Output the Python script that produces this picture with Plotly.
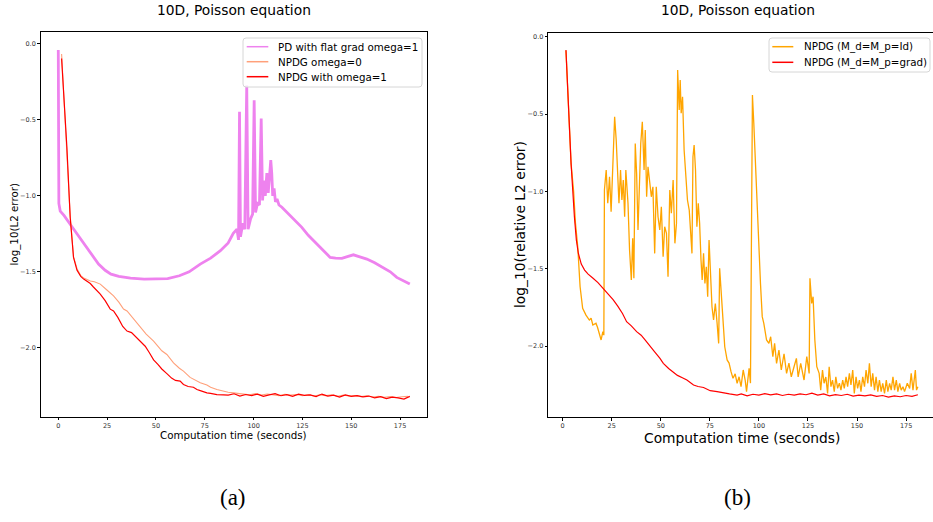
import plotly.graph_objects as go

# ---------------- Panel (a) data ----------------
pd_flat_t = [0, 0.3, 1, 3, 6, 9, 13, 17, 20.6, 24, 27, 31, 37, 44, 50, 56, 62, 67, 72.7, 78, 83, 87,
             89.6, 91.5, 92.3, 92.8, 93.3, 94.5, 95.5, 96.5, 97.2, 98.5, 99.5, 100.3, 101, 102, 103,
             103.9, 104.6, 105.3, 106, 106.8, 107.5, 108.3, 108.8, 109.3, 109.8, 110.5, 111.2, 112, 113,
             114.5, 118, 121, 124.7, 128, 132.4, 136, 139.2, 142, 145.2, 148, 151.1, 154, 158, 162,
             166.5, 170, 173.3, 177, 180]
pd_flat_v = [-0.04, -1.05, -1.10, -1.13, -1.185, -1.24, -1.317, -1.39, -1.449, -1.49, -1.515, -1.53,
             -1.542, -1.548, -1.548, -1.545, -1.526, -1.50, -1.449, -1.41, -1.361, -1.31,
             -1.246, -1.22, -1.29, -0.446, -1.27, -1.18, -1.22, -0.27, -1.22, -1.15, -1.12, -0.37,
             -1.11, -1.05, -1.06, -0.49, -1.03, -0.90, -1.00, -0.85, -0.98, -0.80, -0.764, -0.85, -1.00,
             -0.95, -1.04, -1.02, -1.06, -1.075, -1.12, -1.16, -1.207, -1.26, -1.317, -1.37, -1.405,
             -1.41, -1.412, -1.40, -1.388, -1.40, -1.416, -1.44, -1.471, -1.50, -1.537, -1.56, -1.581]

npdg0_t = [1.7, 3.0, 4.4, 6.1, 7.8, 9.6, 11.5, 13, 14.7, 16.4, 18.5, 21.5, 24.9, 28.3, 31, 33.4, 35.2,
           38.5, 42, 45, 48.8, 50.5, 53, 55.6, 59, 62, 64.1, 67.5, 70, 72.7, 76.1, 78, 81.2, 84.6, 87,
           89.7, 92, 95, 98, 101, 104, 107, 110, 113, 116, 119, 122, 125, 128, 131, 134, 137, 140,
           143, 146, 149, 152, 155, 158, 161, 164, 167, 170, 173, 176, 179]
npdg0_v = [-0.066, -0.36, -0.66, -1.13, -1.40, -1.48, -1.525, -1.54, -1.55, -1.56, -1.565, -1.581,
           -1.62, -1.658, -1.70, -1.745, -1.758, -1.81, -1.868, -1.91, -1.956, -1.985, -2.02, -2.044,
           -2.10, -2.135, -2.154, -2.195, -2.215, -2.231, -2.245, -2.26, -2.275, -2.286, -2.293,
           -2.297, -2.30, -2.305, -2.31, -2.302, -2.312, -2.305, -2.31, -2.315, -2.306, -2.312,
           -2.308, -2.316, -2.31, -2.318, -2.31, -2.315, -2.31, -2.32, -2.312, -2.318, -2.315,
           -2.322, -2.316, -2.324, -2.32, -2.326, -2.322, -2.328, -2.323, -2.32]

npdg1_t = [1.7, 3.0, 4.4, 6.1, 7.8, 9.6, 11.5, 13, 14.7, 16.4, 18, 19.8, 21.5, 24, 26.6, 28.3, 30.5,
           33, 35.2, 37.5, 40, 42, 44.5, 46.5, 48.8, 51, 53, 55.6, 58, 60, 62.4, 64.1, 66.5, 69.2,
           71, 72.7, 74.5, 76.1, 78, 80, 81.2, 84.6, 87, 90, 93, 96, 99, 102, 105, 108, 111, 114,
           117, 120, 123, 126, 129, 132, 135, 138, 141, 144, 147, 150, 153, 156, 159, 162, 165, 168,
           171, 174, 177, 180]
npdg1_v = [-0.095, -0.375, -0.678, -1.141, -1.405, -1.49, -1.53, -1.548, -1.56, -1.577, -1.60,
           -1.625, -1.647, -1.69, -1.746, -1.758, -1.80, -1.86, -1.89, -1.90, -1.93, -1.956, -1.99,
           -2.03, -2.08, -2.11, -2.14, -2.17, -2.20, -2.215, -2.22, -2.242, -2.255, -2.26, -2.275,
           -2.282, -2.29, -2.297, -2.30, -2.305, -2.308, -2.31, -2.312, -2.303, -2.318, -2.308,
           -2.315, -2.305, -2.32, -2.31, -2.302, -2.316, -2.309, -2.32, -2.306, -2.314, -2.31,
           -2.322, -2.305, -2.318, -2.312, -2.325, -2.31, -2.32, -2.315, -2.323, -2.318, -2.33,
           -2.322, -2.335, -2.325, -2.33, -2.338, -2.32]

# ---------------- Panel (b) data ----------------
id_t = [1.7, 3.0, 4.3, 5.6, 6.5, 7.7, 8.9, 10.2, 11.9, 13.6, 14.5, 15.4, 17, 17.8, 18.8, 19.6, 20.5,
        21.0, 21.3, 22.2, 23, 23.9, 24.7, 25.6, 26.5, 27.3, 28.1, 28.7, 29.5, 30.2, 30.9, 31.6,
        32.2, 33.3, 34.1, 35, 35.7, 36.3, 37, 37.7, 38.4, 39.2, 39.8, 40.6, 41.5, 42.1, 42.8, 43.5,
        44.4, 45.2, 46, 46.9, 47.7, 48.6, 49.5, 50.3, 51.2, 52, 52.9, 53.7, 54.6, 55.4, 56.3, 57.2,
        58, 58.6, 59.4, 59.9, 60.4, 61.1, 61.9, 62.9, 63.6, 64.5, 65, 65.9, 66.4, 67, 67.7, 68.4,
        69.1, 69.8, 70.5, 71.1, 71.8, 72.5, 73.2, 73.9, 74.6, 75.2, 76.1, 76.9, 77.8, 78.7, 79.5,
        80, 80.9, 81.7, 82.6, 83.8, 84.8, 85.8, 86.8, 87.9, 88.9, 89.9, 90.9, 92, 93, 93.7, 94.4,
        95, 95.7, 96.7, 97.4, 98.3, 99.1, 99.9, 100.8, 101.7, 102.5, 103.9, 105.1, 106, 107.1, 108,
        109, 110.2, 111.4, 112.8, 114.1, 115.3, 116.5, 117.9, 119.1, 120, 121.3, 123, 124.4, 125.6,
        126, 126.9, 127.6, 128.5, 129.5, 130.7, 131.5, 132.4, 133.2, 134.1, 135, 135.8, 136.7,
        137.5, 138.4, 139.2, 140.1, 141, 141.8, 142.7, 143.5, 144.4, 145.2, 146.1, 146.9, 147.8,
        148.6, 149.5, 150.3, 151.2, 152, 152.9, 153.8, 154.6, 155.5, 156.3, 157.2, 158, 158.9,
        159.7, 160.6, 161.4, 162.3, 163.1, 164, 164.9, 165.7, 166.6, 167.4, 168.3, 169.1, 170,
        170.8, 171.7, 172.5, 173.4, 174.2, 175.6, 176.8, 177.6, 178.5, 179.7, 180.3, 181]
id_v = [-0.09, -0.45, -0.82, -1.0, -1.2, -1.358, -1.617, -1.756, -1.80, -1.832, -1.82, -1.864,
        -1.853, -1.88, -1.918, -1.961, -1.907, -1.93, -0.991, -0.862, -1.077, -0.905, -1.131,
        -0.808, -0.517, -0.668, -0.927, -1.077, -0.862, -1.056, -0.927, -1.164, -0.862, -1.077,
        -1.379, -1.573, -1.304, -1.562, -0.69, -0.884, -1.25, -0.841, -0.69, -0.55, -0.862,
        -0.603, -1.035, -0.841, -0.97, -1.035, -0.97, -1.401, -0.97, -1.164, -1.25, -1.099,
        -1.423, -1.229, -1.272, -1.552, -0.991, -1.142, -0.927, -1.336, -1.207, -0.215, -0.474,
        -0.28, -0.495, -0.388, -0.733, -0.948, -1.056, -1.121, -1.229, -1.401, -0.776, -0.70,
        -0.862, -1.229, -1.077, -1.207, -1.444, -1.573, -1.401, -1.595, -1.487, -1.681, -1.315,
        -1.487, -1.746, -1.832, -1.725, -1.853, -1.983, -1.498, -1.659, -1.81, -2.005, -2.09,
        -2.11, -2.166, -2.209, -2.18, -2.241, -2.199, -2.263, -2.155, -2.22, -2.295, -2.199,
        -2.144, -2.24, -0.377, -0.56, -0.862, -1.142, -1.379, -1.595, -1.81, -1.853, -1.961,
        -1.983, -1.94, -2.069, -1.983, -2.112, -2.026, -2.155, -2.05, -2.177, -2.11, -2.199,
        -2.134, -2.08, -2.2, -2.112, -2.22, -2.069, -2.177, -1.562, -1.724, -1.681, -1.961,
        -2.134, -2.177, -2.285, -2.155, -2.241, -2.2, -2.306, -2.134, -2.263, -2.22, -2.295,
        -2.199, -2.274, -2.24, -2.285, -2.22, -2.274, -2.2, -2.263, -2.177, -2.252, -2.155,
        -2.306, -2.199, -2.274, -2.22, -2.295, -2.199, -2.263, -2.155, -2.241, -2.112, -2.263,
        -2.177, -2.285, -2.199, -2.295, -2.22, -2.295, -2.241, -2.306, -2.22, -2.295, -2.241,
        -2.285, -2.199, -2.285, -2.22, -2.295, -2.241, -2.285, -2.263, -2.295, -2.241, -2.274,
        -2.177, -2.285, -2.155, -2.285, -2.263]

grad_t = [1.7, 3.0, 4.3, 6.0, 7.0, 8.0, 9.5, 11.2, 13, 15.5, 18, 20.6, 23, 25.7, 28, 30.5, 32.6, 35,
          37.7, 40, 42, 44.5, 47, 49.6, 51.3, 54, 56.4, 58.5, 61, 63.3, 66.7, 69, 71.8, 75.2, 78.7,
          82, 85, 88.9, 91, 94, 97, 100, 103, 106, 109, 112, 115, 118, 121, 124, 127, 130, 133,
          136, 139, 142, 145, 148, 151, 154, 157, 160, 163, 166, 169, 172, 175, 178, 181]
grad_v = [-0.086, -0.45, -0.819, -1.164, -1.315, -1.40, -1.47, -1.509, -1.535, -1.562, -1.59,
          -1.627, -1.66, -1.70, -1.74, -1.79, -1.843, -1.87, -1.907, -1.93, -1.96, -2.004, -2.04,
          -2.08, -2.112, -2.145, -2.166, -2.19, -2.205, -2.22, -2.252, -2.262, -2.268, -2.289,
          -2.295, -2.305, -2.31, -2.317, -2.31, -2.322, -2.312, -2.318, -2.308, -2.316, -2.31,
          -2.32, -2.312, -2.318, -2.31, -2.315, -2.305, -2.318, -2.31, -2.322, -2.315, -2.32,
          -2.312, -2.324, -2.318, -2.322, -2.316, -2.326, -2.32, -2.33, -2.322, -2.328, -2.32,
          -2.325, -2.315]

x_ticks = [0, 25, 50, 75, 100, 125, 150, 175]
y_ticks = [0.0, -0.5, -1.0, -1.5, -2.0]

names_a = ["PD with flat grad omega=1", "NPDG omega=0", "NPDG with omega=1"]
names_b = ["NPDG (M_d=M_p=Id)", "NPDG (M_d=M_p=grad)"]

FONT = "DejaVu Sans"
VIOLET = "#EE82EE"
SALMON = "#FFA07A"
RED = "#FF0000"
ORANGE = "#FFA500"

fig = go.Figure()

# Panel (a)
fig.add_trace(go.Scatter(x=pd_flat_t, y=pd_flat_v, mode="lines", line=dict(color=VIOLET, width=2.8),
                         name=names_a[0], xaxis="x", yaxis="y"))
fig.add_trace(go.Scatter(x=npdg0_t, y=npdg0_v, mode="lines", line=dict(color=SALMON, width=1.1),
                         name=names_a[1], xaxis="x", yaxis="y"))
fig.add_trace(go.Scatter(x=npdg1_t, y=npdg1_v, mode="lines", line=dict(color=RED, width=1.2),
                         name=names_a[2], xaxis="x", yaxis="y"))

# Panel (b)
fig.add_trace(go.Scatter(x=id_t, y=id_v, mode="lines", line=dict(color=ORANGE, width=1.3),
                         name=names_b[0], xaxis="x2", yaxis="y2"))
fig.add_trace(go.Scatter(x=grad_t, y=grad_v, mode="lines", line=dict(color=RED, width=1.2),
                         name=names_b[1], xaxis="x2", yaxis="y2"))

W, H = 933, 522
ax_common = dict(showline=True, linecolor="black", linewidth=1.2, showgrid=False, zeroline=False,
                 automargin=False,
                 ticks="outside", ticklen=2.5, tickwidth=0.8, tickcolor="black",
                 tickfont=dict(family=FONT, size=6.5, color="#333333"))

fig.update_layout(
    width=W, height=H,
    margin=dict(l=0, r=0, t=0, b=0, autoexpand=False),
    paper_bgcolor="white", plot_bgcolor="white",
    font=dict(family=FONT, color="black"),
    showlegend=False,
    xaxis=dict(domain=[40.7 / W, 427.4 / W], range=[-9, 189], tickvals=x_ticks,
               anchor="y", mirror=True, **ax_common),
    yaxis=dict(domain=[(H - 416.7) / H, (H - 32.3) / H], range=[-2.454, 0.077], tickvals=y_ticks,
               tickformat=".1f", anchor="x", mirror=True, **ax_common),
    xaxis2=dict(domain=[548.3 / W, 1.0], range=[-7.3, 188.7], tickvals=x_ticks,
                anchor="y2", mirror=True, **ax_common),
    yaxis2=dict(domain=[(H - 417) / H, (H - 32.7) / H], range=[-2.459, 0.026], tickvals=y_ticks,
                tickformat=".1f", anchor="x2", mirror=False, **ax_common),
)


def px(x):
    return x / W


def py(y):
    return (H - y) / H


def ann(text, x, y, size, family=FONT, angle=0, xanchor="center"):
    fig.add_annotation(text=text, x=px(x), y=py(y), xref="paper", yref="paper",
                       showarrow=False, xanchor=xanchor, yanchor="middle", textangle=angle,
                       font=dict(family=family, size=size, color="black"))


def rounded_box(x0, y0, x1, y1, r=3):
    p = (f"M {px(x0 + r)} {py(y0)} L {px(x1 - r)} {py(y0)} Q {px(x1)} {py(y0)} {px(x1)} {py(y0 + r)} "
         f"L {px(x1)} {py(y1 - r)} Q {px(x1)} {py(y1)} {px(x1 - r)} {py(y1)} "
         f"L {px(x0 + r)} {py(y1)} Q {px(x0)} {py(y1)} {px(x0)} {py(y1 - r)} "
         f"L {px(x0)} {py(y0 + r)} Q {px(x0)} {py(y0)} {px(x0 + r)} {py(y0)} Z")
    fig.add_shape(type="path", path=p, xref="paper", yref="paper",
                  line=dict(color="#d6d6d6", width=1), fillcolor="rgba(255,255,255,0.85)")


def legend_box(x0, y0, x1, y1, rows, line_x0, line_x1, text_x):
    rounded_box(x0, y0, x1, y1)
    for name, color, yy in rows:
        fig.add_shape(type="line", xref="paper", yref="paper",
                      x0=px(line_x0), x1=px(line_x1), y0=py(yy), y1=py(yy),
                      line=dict(color=color, width=1.5))
        ann(name, text_x, yy, 10.3, xanchor="left")


legend_box(243, 38, 422, 87,
           [(names_a[0], VIOLET, 46.7), (names_a[1], SALMON, 61.7), (names_a[2], RED, 76.7)],
           246.7, 268.3, 275.5)
legend_box(769, 38, 930, 72,
           [(names_b[0], ORANGE, 46.7), (names_b[1], RED, 62.3)],
           772.3, 793.3, 801.5)

ann("10D, Poisson equation", 233.5, 10, 13.8)
ann("10D, Poisson equation", 738, 10, 13.8)
ann("Computation time (seconds)", 233.7, 435, 10.3)
ann("Computation time (seconds)", 742, 437.5, 13.8)
ann("log_10(L2 error)", 14, 224.5, 10.3, angle=-90)
ann("log_10(relative L2 error)", 520, 225, 13.8, angle=-90)
ann("(a)", 233, 497, 23, family="Liberation Serif")
ann("(b)", 737, 497, 23, family="Liberation Serif")

fig.write_html(
    "out.html",
    config={"displayModeBar": False},
    post_script="document.body.style.margin='0';document.body.style.padding='0';",
)
